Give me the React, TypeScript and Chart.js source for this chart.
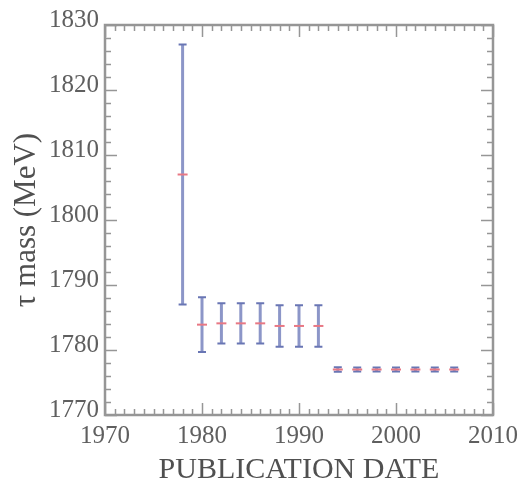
import React, { useEffect, useRef } from 'react';
import { Chart, registerables } from 'chart.js';

Chart.register(...registerables);

const years = [1978, 1980, 1982, 1984, 1986, 1988, 1990, 1992, 1994, 1996, 1998, 2000, 2002, 2004, 2006];
const masses = [1807.0, 1783.9, 1784.1, 1784.1, 1784.1, 1783.7, 1783.7, 1783.7, 1777.0, 1777.0, 1777.0, 1777.0, 1777.0, 1777.0, 1777.0];
const errors = [20.0, 4.2, 3.1, 3.1, 3.1, 3.2, 3.2, 3.2, 0.35, 0.3, 0.3, 0.3, 0.3, 0.3, 0.3];

const xTickLabels = ['1970', '1980', '1990', '2000', '2010'];
const yTickLabels = ['1770', '1780', '1790', '1800', '1810', '1820', '1830'];

const FONT = '"Liberation Serif", "DejaVu Serif", serif';
const BAR = 'rgb(140,150,200)';
const CAP = 'rgb(105,118,180)';
const MID = 'rgb(232,120,132)';
const FRAME = 'rgb(150,150,150)';

const errorBarPlugin = {
  id: 'errorBars',
  beforeDatasetsDraw(chart: any) {
    const { ctx, scales } = chart;
    const xs = scales.x;
    const ys = scales.y;
    ctx.save();
    years.forEach((yr, i) => {
      const px = xs.getPixelForValue(yr);
      const top = ys.getPixelForValue(masses[i] + errors[i]);
      const bot = ys.getPixelForValue(masses[i] - errors[i]);
      ctx.strokeStyle = BAR;
      ctx.lineWidth = 3;
      ctx.beginPath();
      ctx.moveTo(px, top);
      ctx.lineTo(px, bot);
      ctx.stroke();
      ctx.strokeStyle = CAP;
      ctx.lineWidth = 2;
      ctx.beginPath();
      ctx.moveTo(px - 4, top);
      ctx.lineTo(px + 4, top);
      ctx.moveTo(px - 4, bot);
      ctx.lineTo(px + 4, bot);
      ctx.stroke();
    });
    ctx.restore();
  },
};

const framePlugin = {
  id: 'frameTicks',
  afterDraw(chart: any) {
    const { ctx, chartArea, scales } = chart;
    const { left, right, top, bottom } = chartArea;
    ctx.save();
    ctx.strokeStyle = FRAME;
    ctx.lineWidth = 1.5;
    ctx.beginPath();
    scales.x.ticks.forEach((t: any) => {
      const px = Math.round(scales.x.getPixelForValue(t.value)) + 0.5;
      const len = t.value % 10 === 0 ? 12 : 6;
      ctx.moveTo(px, bottom);
      ctx.lineTo(px, bottom - len);
      ctx.moveTo(px, top);
      ctx.lineTo(px, top + len);
    });
    scales.y.ticks.forEach((t: any) => {
      const py = Math.round(scales.y.getPixelForValue(t.value)) + 0.5;
      const len = t.value % 10 === 0 ? 12 : 6;
      ctx.moveTo(left, py);
      ctx.lineTo(left + len, py);
      ctx.moveTo(right, py);
      ctx.lineTo(right - len, py);
    });
    ctx.stroke();
    ctx.lineWidth = 2.5;
    ctx.strokeRect(left, top, right - left, bottom - top);
    ctx.restore();
  },
};

export default function App() {
  const ref = useRef<HTMLCanvasElement | null>(null);
  useEffect(() => {
    if (!ref.current) return;
    const chart = new Chart(ref.current, {
      type: 'scatter',
      data: {
        datasets: [
          {
            data: years.map((y, i) => ({ x: y, y: masses[i] })),
            pointStyle: 'line',
            pointRadius: 5,
            pointBorderWidth: 2,
            borderColor: MID,
            backgroundColor: MID,
          },
        ],
      },
      options: {
        responsive: false,
        animation: false,
        events: [],
        layout: { padding: { left: 0, right: 30, top: 25, bottom: 0 } },
        plugins: { legend: { display: false }, tooltip: { enabled: false } },
        scales: {
          x: {
            type: 'linear',
            min: 1970,
            max: 2010,
            afterFit: (s: any) => { s.height = 70; },
            grid: { display: false, drawTicks: false },
            border: { display: false },
            ticks: {
              stepSize: 1,
              autoSkip: false,
              maxRotation: 0,
              padding: 6,
              color: 'rgb(95,95,95)',
              font: { family: FONT, size: 25 },
              callback: (v: any) => {
                const s = String(v);
                return xTickLabels.includes(s) ? s : '';
              },
            },
            title: {
              display: true,
              text: 'PUBLICATION DATE',
              color: 'rgb(80,80,80)',
              font: { family: FONT, size: 30, lineHeight: 1 },
              padding: { top: 0, bottom: 0 },
            },
          },
          y: {
            type: 'linear',
            min: 1770,
            max: 1830,
            afterFit: (s: any) => { s.width = 105; },
            grid: { display: false, drawTicks: false },
            border: { display: false },
            ticks: {
              stepSize: 2,
              autoSkip: false,
              padding: 6,
              labelOffset: -5,
              color: 'rgb(95,95,95)',
              font: { family: FONT, size: 25 },
              callback: (v: any) => {
                const s = String(v);
                return yTickLabels.includes(s) ? s : '';
              },
            },
            title: {
              display: true,
              text: 'τ mass (MeV)',
              color: 'rgb(80,80,80)',
              font: { family: FONT, size: 31, lineHeight: 1 },
              padding: { top: 11, bottom: 0 },
            },
          },
        },
      },
      plugins: [errorBarPlugin, framePlugin],
    });
    return () => chart.destroy();
  }, []);
  return (
    <div style={{ position: 'fixed', left: 0, top: 0, width: 524, height: 485, background: '#fff' }}>
      <canvas ref={ref} width={524} height={485} />
    </div>
  );
}
